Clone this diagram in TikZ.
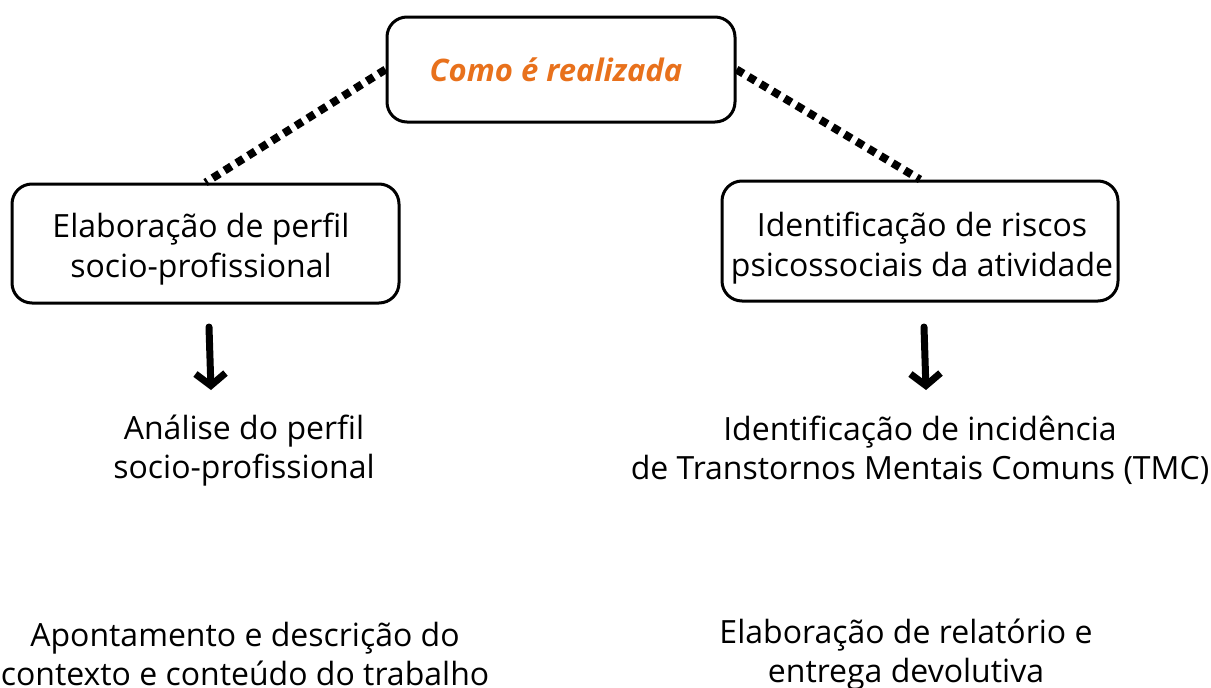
\documentclass[tikz,border=0pt]{standalone}
\usepackage{fontspec}
\setmainfont{Open Sans}
\usetikzlibrary{arrows.meta}
\definecolor{titleorange}{HTML}{E8711C}
\tikzset{
  box/.style={draw=black, line width=3pt, rounded corners=20pt, inner sep=0pt},
  txt/.style={align=center, font=\fontsize{32}{39}\selectfont, inner sep=0pt},
  boxtxt/.style={align=center, font=\fontsize{32}{40}\selectfont, inner sep=0pt},
  dotline/.style={line width=8pt, dash pattern=on 8pt off 6pt},
  arr/.style={line width=7pt, line cap=round, line join=round, -{Straight Barb[length=12pt,width=30pt]}}
}
\begin{document}
\begin{tikzpicture}[x=1pt,y=-1pt]
\useasboundingbox (0,0) rectangle (1211,688);
% boxes
\node[box, minimum width=348pt, minimum height=105pt] (top) at (561,69.5) {};
\node[font=\fontsize{31}{38}\selectfont\bfseries\itshape, text=titleorange, inner sep=0pt] (ttl) at (556,70) {Como é realizada};
\node[box, minimum width=387pt, minimum height=119pt] (left) at (205.5,243.5) {};
\node[boxtxt] (lt) at (201,249) {Elaboração de perfil\\socio-profissional};
\node[box, minimum width=396pt, minimum height=120pt] (right) at (920,241) {};
\node[boxtxt] (rt) at (922,248) {Identificação de riscos\\psicossociais da atividade};
% dotted connectors
\draw[dotline] (top.west) -- (left.north);
\draw[dotline] (top.east) -- (right.north);
% second level texts
\node[txt] (a1) at (244,451) {Análise do perfil\\socio-profissional};
\node[txt] (a2) at (920,450) {Identificação de incidência\\de Transtornos Mentais Comuns (TMC)};
% arrows
\coordinate (a1s) at (209,327);
\coordinate (a1e) at (211,390);
\coordinate (a2s) at (924,327);
\coordinate (a2e) at (926,390);
\draw[arr] (a1s) -- (a1e);
\draw[arr] (a2s) -- (a2e);
% bottom texts
\node[txt] (b1) at (245,654) {Apontamento e descrição do\\contexto e conteúdo do trabalho};
\node[txt] (b2) at (906,655) {Elaboração de relatório e\\entrega devolutiva};
\end{tikzpicture}
\end{document}
